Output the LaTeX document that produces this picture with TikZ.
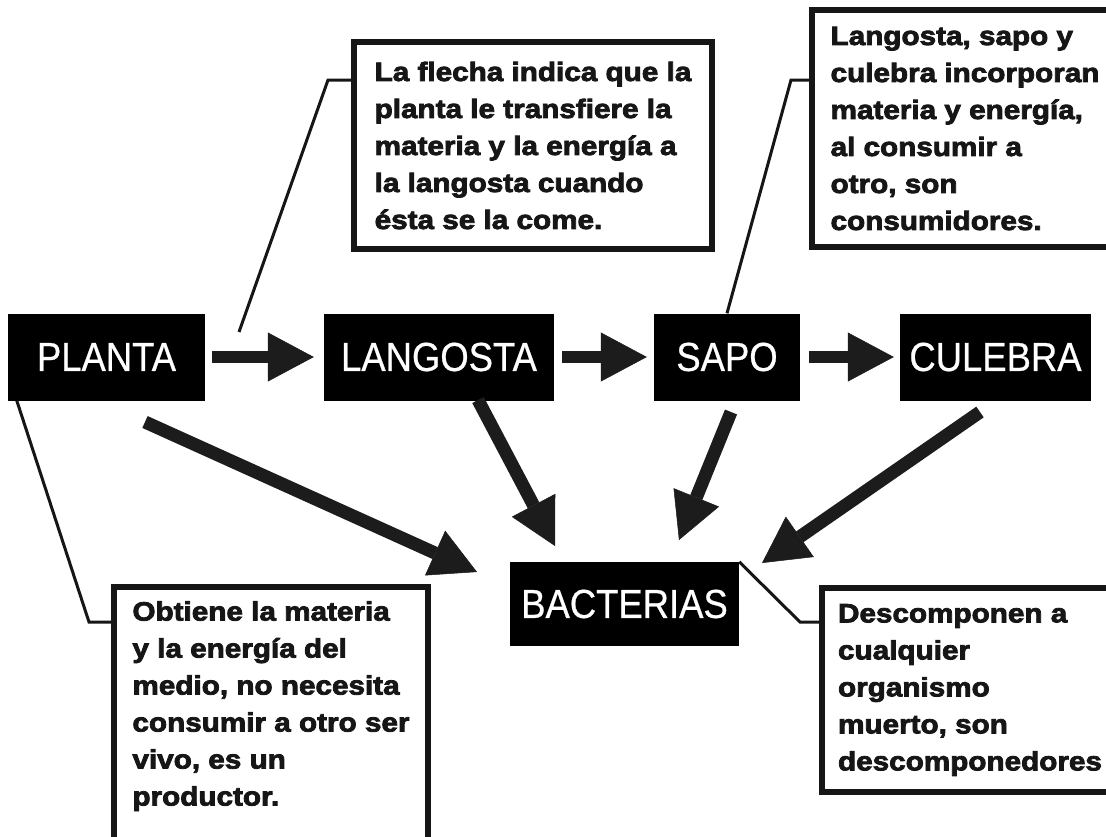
\documentclass[tikz,border=0pt]{standalone}
\usepackage{fontspec}
\usepackage{tikz}
\usetikzlibrary{arrows.meta,calc}
\usepackage{xcolor}
\newfontfamily\orgfont{Liberation Sans}[FakeStretch=0.9,FakeBold=0.6]
\newfontfamily\notefont{Liberation Sans}[FakeStretch=1.12,BoldFeatures={FakeBold=3}]
\definecolor{arrowcol}{RGB}{28,28,28}
\definecolor{inkcol}{RGB}{22,22,22}
\tikzset{
  % organism box, white letters on black
  orgbox/.style={rectangle, fill=black, text=white, minimum height=87pt, inner sep=0pt,
                 font=\orgfont\fontsize{40.5}{44}\selectfont},
  % note box with thick frame
  notebox/.style={rectangle, draw=inkcol, line width=5.5pt, fill=white, inner sep=0pt,
                  align=left, text=inkcol, font=\notefont\bfseries\fontsize{26.5}{37}\selectfont},
  % flow of matter and energy
  flowarrow/.style={-{Triangle[length=46pt,width=49pt,line width=0.5pt]}, line width=12pt, draw=arrowcol},
  % thin line from a note to what it explains
  leader/.style={draw=inkcol, line width=3pt, line join=miter},
}

\begin{document}
\begin{tikzpicture}[x=1pt, y=-1pt]

  \useasboundingbox (0,0) rectangle (1106,836);
  \clip (0,0) rectangle (1106,836);
  \fill[white] (0,0) rectangle (1106,836);

  % ── organisms ──
  \node[orgbox, minimum width=197pt] (planta) at (106.5,357) {PLANTA};
  \node[orgbox, minimum width=230pt] (langosta) at (439,357) {LANGOSTA};
  \node[orgbox, minimum width=146pt] (sapo) at (727,357) {SAPO};
  \node[orgbox, minimum width=191pt] (culebra) at (995.5,357) {CULEBRA};
  \node[orgbox, minimum width=229pt, minimum height=84pt] (bacterias) at (624.5,604) {BACTERIAS};

  % ── notes ──
  \node[notebox, minimum width=358pt, minimum height=207pt] (nota1) at (533,145.5)
    {La flecha indica que la\\planta le transfiere la\\materia y la energía a\\la langosta cuando\\ésta se la come.};
  \node[notebox, minimum width=306pt, minimum height=237pt] (nota2) at (965,128.5)
    {Langosta, sapo y\\culebra incorporan\\materia y energía,\\al consumir a\\otro, son\\consumidores.};
  \node[notebox, minimum width=314pt, minimum height=281pt] (nota3) at (271,727.5)
    {Obtiene la materia\\y la energía del\\medio, no necesita\\consumir a otro ser\\vivo, es un\\productor.\\\strut};
  \node[notebox, minimum width=296pt, minimum height=204pt] (nota4) at (970,690)
    {Descomponen a\\cualquier\\organismo\\muerto, son\\descomponedores};

  % leaders
  \coordinate (l1a) at (239,332);
  \coordinate (l1b) at (328,80);
  \coordinate (l2b) at (791,80);
  \coordinate (l3b) at (89,622);
  \coordinate (l4b) at (800,622);
  \draw[leader] (l1a) -- (l1b) -- (l1b -| nota1.west);
  \draw[leader] (sapo.north) -- (l2b) -- (l2b -| nota2.west);
  \draw[leader] ($(planta.south west)+(9,0)$) -- (l3b) -- (l3b -| nota3.west);
  \draw[leader] (bacterias.north east) -- (l4b) -- (l4b -| nota4.west);

  % ── food chain ──
  \draw[flowarrow, shorten <=7pt, shorten >=10pt] (planta) -- (langosta);
  \draw[flowarrow, shorten <=8pt, shorten >=7pt] (langosta) -- (sapo);
  \draw[flowarrow, shorten <=9pt, shorten >=6pt] (sapo) -- (culebra);

  % ── everything ends in the bacteria ──
  \coordinate (t1) at (145,422);  \coordinate (h1) at (477,572);
  \coordinate (t2) at (478,400);  \coordinate (h2) at (555,546);
  \coordinate (t3) at (731,412);  \coordinate (h3) at (679,540);
  \coordinate (t4) at (980,412);  \coordinate (h4) at (762,563);
  \draw[flowarrow, line width=13pt] (t1) -- (h1);
  \draw[flowarrow, line width=13pt] (t2) -- (h2);
  \draw[flowarrow, line width=13pt] (t3) -- (h3);
  \draw[flowarrow, line width=13pt] (t4) -- (h4);

\end{tikzpicture}
\end{document}
